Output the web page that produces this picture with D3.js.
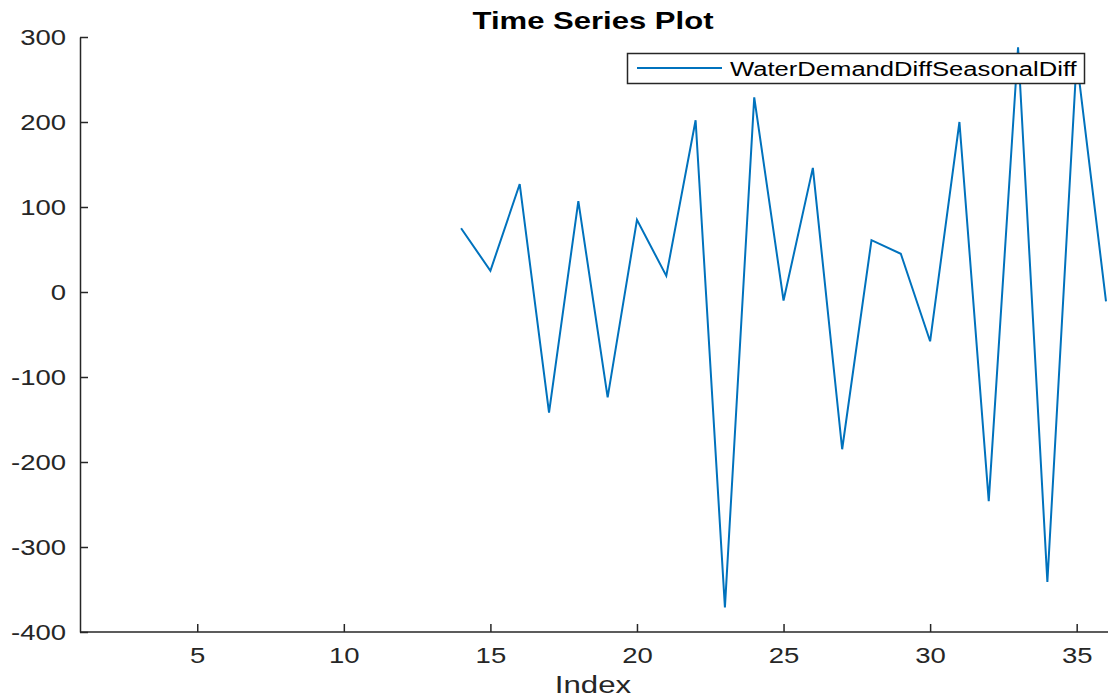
<!DOCTYPE html>
<html>
<head>
<meta charset="utf-8">
<script src="https://cdn.jsdelivr.net/npm/d3@7"></script>
<style>
html,body{margin:0;padding:0;background:#fff;}
svg{display:block;font-family:"Liberation Sans",Arial,Helvetica,sans-serif;}
</style>
</head>
<body>
<svg id="chart" width="1108" height="697"></svg>
<script>
const indices = [14,15,16,17,18,19,20,21,22,23,24,25,26,27,28,29,30,31,32,33,34,35,36];
const values  = [75,25,127,-142,107,-124,85,19,202,-371,229,-10,146,-185,61,45,-58,200,-246,288,-341,274,-11];
const xTicks = [5,10,15,20,25,30,35];
const yTicks = [-400,-300,-200,-100,0,100,200,300];
const seriesName = "WaterDemandDiffSeasonalDiff";
const titleText = "Time Series Plot";
const xLabel = "Index";

const svg = d3.select("#chart");
const mLeft = 80, mRight = 1106, mTop = 37, mBottom = 632;
const x = d3.scaleLinear().domain([1,36]).range([mLeft,mRight]);
const y = d3.scaleLinear().domain([-400,300]).range([mBottom,mTop]);
const axisColor = "#262626";
const fmt = d => String(d);

svg.append("defs").append("clipPath").attr("id","clip")
  .append("rect").attr("x",mLeft).attr("y",mTop-10).attr("width",1108-mLeft).attr("height",mBottom-mTop+10);

const data = indices.map((d,i)=>({x:d,y:values[i]}));
svg.append("path").datum(data)
  .attr("clip-path","url(#clip)")
  .attr("fill","none").attr("stroke","#0072BD").attr("stroke-width",2)
  .attr("stroke-linejoin","miter")
  .attr("d", d3.line().x(d=>x(d.x)).y(d=>y(d.y)));

// axes
const xAxis = svg.append("g").attr("transform",`translate(0,${mBottom})`)
  .call(d3.axisBottom(x).tickValues(xTicks).tickFormat(fmt).tickSize(-8).tickPadding(18).tickSizeOuter(0));
const yAxis = svg.append("g").attr("transform",`translate(${mLeft},0)`)
  .call(d3.axisLeft(y).tickValues(yTicks).tickFormat(fmt).tickSize(-8).tickPadding(14).tickSizeOuter(0));
[xAxis,yAxis].forEach(g=>{
  g.select(".domain").attr("stroke",axisColor).attr("stroke-width",1.5);
  g.selectAll(".tick line").attr("stroke",axisColor).attr("stroke-width",1.5);
  g.selectAll(".tick text").attr("fill",axisColor).style("font-size","22px")
    .style("font-family","'Liberation Sans',Arial,sans-serif");
});
xAxis.select(".domain").attr("d",`M${mLeft},0H1108`);
// horizontal stretch of tick labels
xAxis.selectAll(".tick text").each(function(){
  const t = d3.select(this);
  const yy = +t.attr("y");
  t.attr("y",0).attr("dy","0.71em").attr("transform",`translate(0,${yy-3}) scale(1.25,1)`);
});
yAxis.selectAll(".tick text").each(function(){
  const t = d3.select(this);
  const xx = +t.attr("x");
  t.attr("x",0).attr("transform",`translate(${xx},0) scale(1.25,1)`);
});

// title
svg.append("text").attr("transform","translate(593,29) scale(1.35,1)").attr("text-anchor","middle")
  .style("font-size","23px").style("font-weight","bold").attr("fill","#000").text(titleText);
// x label
svg.append("text").attr("transform","translate(593,693) scale(1.3,1)").attr("text-anchor","middle")
  .style("font-size","24px").attr("fill",axisColor).text(xLabel);

// legend
const lg = svg.append("g");
lg.append("rect").attr("x",627.5).attr("y",53.5).attr("width",457).attr("height",30)
  .attr("fill","#fff").attr("stroke",axisColor).attr("stroke-width",1.5);
lg.append("line").attr("x1",637).attr("x2",722).attr("y1",68).attr("y2",68)
  .attr("stroke","#0072BD").attr("stroke-width",2);
lg.append("text").attr("transform","translate(730,76) scale(1.22,1)").style("font-size","21px").attr("fill","#000").text(seriesName);
</script>
</body>
</html>
